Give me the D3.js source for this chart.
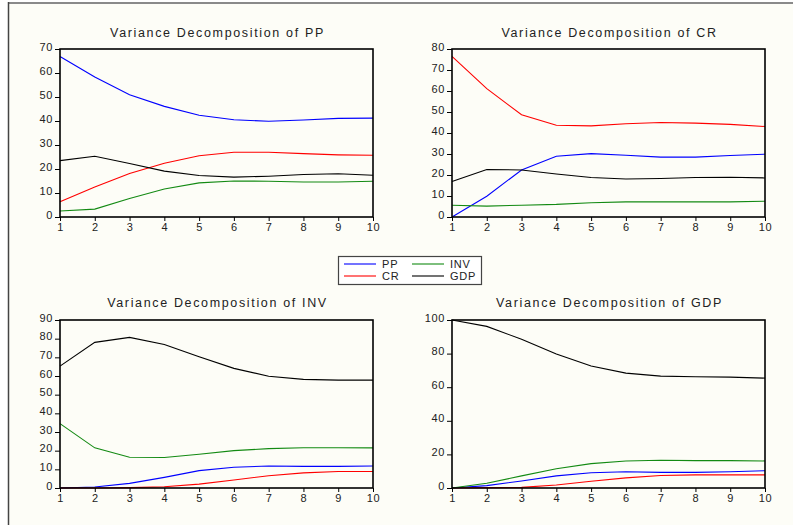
<!DOCTYPE html>
<html lang="en">
<head>
<meta charset="UTF-8">
<title>Variance Decomposition</title>
<script src="https://d3js.org/d3.v7.min.js"></script>
<style>
  html, body { margin: 0; padding: 0; background: #ffffff; }
  svg { display: block; font-family: "Liberation Sans", Arial, sans-serif; }
  .title { font-size: 12.5px; letter-spacing: 1.65px; fill: #222; }
  .tick-label { font-size: 11px; letter-spacing: 0.6px; fill: #222; }
  .legend-label { font-size: 11px; letter-spacing: 0.8px; fill: #222; }
</style>
</head>
<body>
<div id="chart"></div>
<script>
// Periods (x axis)
const periods = [1, 2, 3, 4, 5, 6, 7, 8, 9, 10];

// Variance decomposition of PP
const ppPP  = [66.9, 58.3, 50.9, 46.1, 42.4, 40.5, 39.9, 40.4, 41.1, 41.2];
const ppCR  = [6.4, 12.5, 18.1, 22.4, 25.5, 27.0, 27.0, 26.4, 25.9, 25.7];
const ppINV = [2.5, 3.3, 7.7, 11.7, 14.2, 15.0, 14.9, 14.6, 14.6, 14.9];
const ppGDP = [23.5, 25.3, 22.3, 19.1, 17.3, 16.6, 17.0, 17.7, 18.0, 17.4];

// Variance decomposition of CR
const crPP  = [0.0, 9.9, 22.4, 28.9, 30.2, 29.4, 28.5, 28.5, 29.3, 29.9];
const crCR  = [76.5, 61.1, 48.7, 43.7, 43.4, 44.4, 45.0, 44.7, 44.1, 43.1];
const crINV = [5.6, 5.2, 5.6, 6.0, 6.8, 7.2, 7.2, 7.2, 7.2, 7.5];
const crGDP = [16.9, 22.6, 22.4, 20.5, 18.8, 18.1, 18.3, 18.8, 18.9, 18.6];

// Variance decomposition of INV
const invPP  = [0.0, 0.5, 2.5, 5.7, 9.3, 11.1, 11.8, 11.6, 11.6, 11.8];
const invCR  = [0.0, 0.0, 0.2, 0.7, 2.1, 4.3, 6.6, 8.1, 8.8, 8.8];
const invINV = [34.5, 21.5, 16.5, 16.3, 18.1, 20.0, 21.1, 21.6, 21.6, 21.5];
const invGDP = [65.3, 78.0, 80.7, 76.9, 70.3, 64.1, 59.9, 58.2, 57.8, 57.8];

// Variance decomposition of GDP
const gdpPP  = [0.0, 1.4, 4.2, 7.2, 9.1, 9.7, 9.3, 9.3, 9.7, 10.3];
const gdpCR  = [0.0, 0.2, 0.4, 1.8, 4.0, 6.0, 7.4, 7.8, 7.8, 7.8];
const gdpINV = [0.0, 2.8, 7.2, 11.5, 14.5, 16.1, 16.5, 16.3, 16.3, 16.1];
const gdpGDP = [100.0, 96.2, 88.5, 79.7, 72.6, 68.4, 66.6, 66.2, 66.0, 65.4];

// Y tick labels per panel
const ppTicks  = [0, 10, 20, 30, 40, 50, 60, 70];
const crTicks  = [0, 10, 20, 30, 40, 50, 60, 70, 80];
const invTicks = [0, 10, 20, 30, 40, 50, 60, 70, 80, 90];
const gdpTicks = [0, 20, 40, 60, 80, 100];

const seriesNames = ["PP", "CR", "INV", "GDP"];
const colors = { PP: "#0000ff", CR: "#ff0000", INV: "#138a13", GDP: "#000000" };

const width = 793, height = 525;

const panels = [
  { title: "Variance Decomposition of PP",  series: [ppPP, ppCR, ppINV, ppGDP],     ticks: ppTicks,  x0: 60,  x1: 373, y0: 49,  y1: 217, ty: 37 },
  { title: "Variance Decomposition of CR",  series: [crPP, crCR, crINV, crGDP],     ticks: crTicks,  x0: 452, x1: 765, y0: 49,  y1: 217, ty: 37 },
  { title: "Variance Decomposition of INV", series: [invPP, invCR, invINV, invGDP], ticks: invTicks, x0: 60,  x1: 373, y0: 320, y1: 488, ty: 306.5 },
  { title: "Variance Decomposition of GDP", series: [gdpPP, gdpCR, gdpINV, gdpGDP], ticks: gdpTicks, x0: 452, x1: 765, y0: 320, y1: 488, ty: 306.5 }
];

const svg = d3.select("#chart").append("svg")
  .attr("width", width)
  .attr("height", height);

// page background and frame
svg.append("rect").attr("x", 8).attr("y", 3).attr("width", width - 8).attr("height", height - 3)
  .attr("fill", "#fdfdf7");
svg.append("line").attr("x1", 8).attr("x2", width).attr("y1", 3).attr("y2", 3)
  .attr("stroke", "#8a8a8a").attr("stroke-width", 2);
svg.append("line").attr("x1", 8.5).attr("x2", 8.5).attr("y1", 2).attr("y2", height)
  .attr("stroke", "#444").attr("stroke-width", 1.5);

panels.forEach(p => {
  const x = d3.scaleLinear().domain([1, 10]).range([p.x0, p.x1]);
  const yMax = p.ticks[p.ticks.length - 1];
  const y = d3.scaleLinear().domain([0, yMax]).range([p.y1, p.y0]);

  const g = svg.append("g");

  // title
  g.append("text")
    .attr("class", "title")
    .attr("x", (p.x0 + p.x1) / 2 + 1)
    .attr("y", p.ty)
    .attr("text-anchor", "middle")
    .text(p.title);

  // series lines
  const line = d3.line().x((d, i) => x(periods[i])).y(d => y(d));
  p.series.forEach((vals, k) => {
    g.append("path")
      .datum(vals)
      .attr("d", line)
      .attr("fill", "none")
      .attr("stroke", colors[seriesNames[k]])
      .attr("stroke-width", 1.1);
  });

  // plot frame
  g.append("rect")
    .attr("x", p.x0).attr("y", p.y0)
    .attr("width", p.x1 - p.x0).attr("height", p.y1 - p.y0)
    .attr("fill", "none").attr("stroke", "#000").attr("stroke-width", 1.6);

  // y axis
  const yAxis = d3.axisLeft(y).tickValues(p.ticks).tickSize(5).tickPadding(2);
  const ya = g.append("g").attr("transform", `translate(${p.x0},0)`).call(yAxis);
  ya.select(".domain").remove();
  ya.selectAll("line").attr("stroke", "#000").attr("stroke-width", 1);
  ya.selectAll("text").attr("class", "tick-label").attr("font-size", null).attr("font-family", null)
    .attr("dy", "0.1em");

  // x axis
  const xAxis = d3.axisBottom(x).tickValues(periods).tickSize(4).tickPadding(2);
  const xa = g.append("g").attr("transform", `translate(0,${p.y1})`).call(xAxis);
  xa.select(".domain").remove();
  xa.selectAll("line").attr("stroke", "#000").attr("stroke-width", 1);
  xa.selectAll("text").attr("class", "tick-label").attr("font-size", null).attr("font-family", null);
});

// legend
const legend = svg.append("g").attr("transform", "translate(338,256)");
legend.append("rect")
  .attr("x", 0.5).attr("y", 0.5).attr("width", 143).attr("height", 28)
  .attr("fill", "#ffffff").attr("stroke", "#444").attr("stroke-width", 1.2);

const legendItems = legend.selectAll(".legend-item")
  .data(seriesNames)
  .join("g")
  .attr("class", "legend-item")
  .attr("transform", (d, i) => `translate(${6 + Math.floor(i / 2) * 68},${8 + (i % 2) * 12})`);

legendItems.append("line")
  .attr("x1", 0).attr("x2", 32).attr("y1", 0).attr("y2", 0)
  .attr("stroke", d => colors[d]).attr("stroke-width", 1.1);

legendItems.append("text")
  .attr("class", "legend-label")
  .attr("x", 38).attr("y", 4)
  .text(d => d);
</script>
</body>
</html>
